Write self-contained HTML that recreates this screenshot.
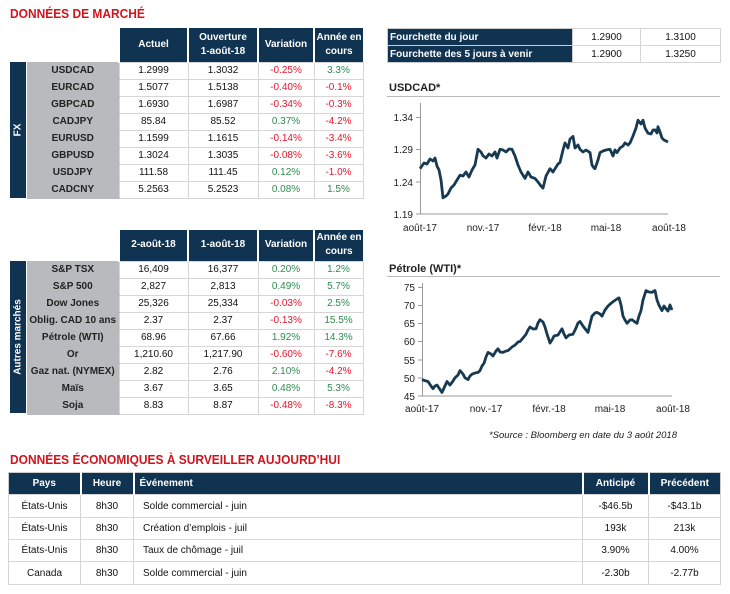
<!DOCTYPE html>
<html><head><meta charset="utf-8"><style>
*{margin:0;padding:0;box-sizing:border-box}
body{width:730px;height:594px;background:#fff;font-family:"Liberation Sans",sans-serif;font-size:10px;color:#111;position:relative;overflow:hidden}
.a{position:absolute}
.t{color:#d0141e;font-weight:bold;font-size:13px;transform:scaleX(0.92);transform-origin:left}
table{border-collapse:collapse;position:absolute;table-layout:fixed}
td,th{text-align:center;overflow:hidden;white-space:nowrap}
th{background:#0f3350;color:#fff;font-weight:bold;font-size:10px;border-left:2px solid #fff;line-height:14px}
td{border:1px solid #d6d6d6;height:17px;font-size:10px}
td.l{background:#b9babd;font-weight:bold;border:none;color:#222;border-bottom:1px solid #b9babd}
.r{color:#e8142a}.g{color:#2e8b50}
.side{position:absolute;background:#0f3350;color:#fff;font-weight:bold;font-size:10px}
.side span{position:absolute;left:50%;top:50%;transform:translate(-50%,-50%) rotate(-90deg);white-space:nowrap}
.ct{font-weight:bold;font-size:11px;color:#222}
.hr{position:absolute;height:1px;background:#bbb}
</style></head><body>
<div class="a t" style="left:10px;top:6px">DONNÉES DE MARCHÉ</div>

<table style="left:26px;top:28px;width:336px">
<colgroup><col style="width:92px"><col style="width:69px"><col style="width:70px"><col style="width:56px"><col style="width:49px"></colgroup>
<tr style="height:34px"><th style="background:#fff"></th><th>Actuel</th><th>Ouverture<br>1-août-18</th><th>Variation</th><th>Année en<br>cours</th></tr>
<tr><td class="l">USDCAD</td><td>1.2999</td><td>1.3032</td><td class="r">-0.25%</td><td class="g">3.3%</td></tr>
<tr><td class="l">EURCAD</td><td>1.5077</td><td>1.5138</td><td class="r">-0.40%</td><td class="r">-0.1%</td></tr>
<tr><td class="l">GBPCAD</td><td>1.6930</td><td>1.6987</td><td class="r">-0.34%</td><td class="r">-0.3%</td></tr>
<tr><td class="l">CADJPY</td><td>85.84</td><td>85.52</td><td class="g">0.37%</td><td class="r">-4.2%</td></tr>
<tr><td class="l">EURUSD</td><td>1.1599</td><td>1.1615</td><td class="r">-0.14%</td><td class="r">-3.4%</td></tr>
<tr><td class="l">GBPUSD</td><td>1.3024</td><td>1.3035</td><td class="r">-0.08%</td><td class="r">-3.6%</td></tr>
<tr><td class="l">USDJPY</td><td>111.58</td><td>111.45</td><td class="g">0.12%</td><td class="r">-1.0%</td></tr>
<tr><td class="l">CADCNY</td><td>5.2563</td><td>5.2523</td><td class="g">0.08%</td><td class="g">1.5%</td></tr>
</table>
<div class="side" style="left:10px;top:62px;width:16px;height:136px"><span>FX</span></div>

<table style="left:26px;top:230px;width:336px">
<colgroup><col style="width:92px"><col style="width:69px"><col style="width:70px"><col style="width:56px"><col style="width:49px"></colgroup>
<tr style="height:31px"><th style="background:#fff"></th><th>2-août-18</th><th>1-août-18</th><th>Variation</th><th>Année en<br>cours</th></tr>
<tr><td class="l">S&amp;P TSX</td><td>16,409</td><td>16,377</td><td class="g">0.20%</td><td class="g">1.2%</td></tr>
<tr><td class="l">S&amp;P 500</td><td>2,827</td><td>2,813</td><td class="g">0.49%</td><td class="g">5.7%</td></tr>
<tr><td class="l">Dow Jones</td><td>25,326</td><td>25,334</td><td class="r">-0.03%</td><td class="g">2.5%</td></tr>
<tr><td class="l">Oblig. CAD 10 ans</td><td>2.37</td><td>2.37</td><td class="r">-0.13%</td><td class="g">15.5%</td></tr>
<tr><td class="l">Pétrole (WTI)</td><td>68.96</td><td>67.66</td><td class="g">1.92%</td><td class="g">14.3%</td></tr>
<tr><td class="l">Or</td><td>1,210.60</td><td>1,217.90</td><td class="r">-0.60%</td><td class="r">-7.6%</td></tr>
<tr><td class="l">Gaz nat. (NYMEX)</td><td>2.82</td><td>2.76</td><td class="g">2.10%</td><td class="r">-4.2%</td></tr>
<tr><td class="l">Maïs</td><td>3.67</td><td>3.65</td><td class="g">0.48%</td><td class="g">5.3%</td></tr>
<tr><td class="l">Soja</td><td>8.83</td><td>8.87</td><td class="r">-0.48%</td><td class="r">-8.3%</td></tr>
</table>
<div class="side" style="left:10px;top:261px;width:16px;height:152px"><span>Autres marchés</span></div>

<table style="left:387px;top:28px;width:333px">
<colgroup><col style="width:185px"><col style="width:68px"><col style="width:80px"></colgroup>
<tr><td style="background:#0f3350;color:#fff;font-weight:bold;text-align:left;padding-left:2px;border:1px solid #ccc">Fourchette du jour</td><td>1.2900</td><td>1.3100</td></tr>
<tr><td style="background:#0f3350;color:#fff;font-weight:bold;text-align:left;padding-left:2px;border:1px solid #ccc">Fourchette des 5 jours à venir</td><td>1.2900</td><td>1.3250</td></tr>
</table>

<div class="a ct" style="left:389px;top:82px">USDCAD*</div>
<div class="hr" style="left:387px;top:96px;width:333px"></div>
<div class="a ct" style="left:389px;top:263px">Pétrole (WTI)*</div>
<div class="hr" style="left:387px;top:276px;width:333px"></div>

<svg class="a" style="left:0;top:0" width="730" height="594" font-family="Liberation Sans,sans-serif" font-size="10" fill="#222">
<g stroke="#999" stroke-width="1" fill="none">
<path d="M420.5 103V214H668"/><path d="M416 117.5h4M416 149.5h4M416 182h4M416 214h4"/>
<path d="M422.5 283V396H672"/><path d="M418 287.5h4M418 305.5h4M418 323.5h4M418 341.5h4M418 360h4M418 378h4M418 396h4"/>
</g>
<g text-anchor="end">
<text x="413" y="121">1.34</text><text x="413" y="153">1.29</text><text x="413" y="186">1.24</text><text x="413" y="218">1.19</text>
<text x="415" y="291">75</text><text x="415" y="309">70</text><text x="415" y="327">65</text><text x="415" y="345">60</text><text x="415" y="364">55</text><text x="415" y="382">50</text><text x="415" y="400">45</text>
</g>
<g text-anchor="middle">
<text x="420" y="231">août-17</text><text x="483" y="231">nov.-17</text><text x="545" y="231">févr.-18</text><text x="606" y="231">mai-18</text><text x="669" y="231">août-18</text>
<text x="422" y="412">août-17</text><text x="486" y="412">nov.-17</text><text x="549" y="412">févr.-18</text><text x="610" y="412">mai-18</text><text x="673" y="412">août-18</text>
</g>
<polyline fill="none" stroke="#173a52" stroke-width="2.8" stroke-linejoin="round" points="420,168.7 424,163 427,164 430,159 433,161 435,158 437,166 439,170 441,180 443,197.8 446,196 448,194 451,188 454,185 457,180 460,175.2 463,176 466,172 469,177 472,170 475,165 478,149.3 481,152 483,155.8 486,158 489,154 492,156 495,152 497,158 500,149.3 503,150 506,152 509,149 512,149.3 515,156 518,165 521,172 525,178.4 528,172 531,177 535,178.4 538,182 541,186 543,188.1 546,176 550,168.7 553,172 555,168.7 558,164 560,162.3 563,150 565,142.9 568,148 570,139 573,136.4 575,148 578,145 580,149.3 583,152 586,150 590,152.6 592,165 594,168 595,168.7 598,160 600,152.6 603,151 606,150 610,149.3 613,156 615,150 617,152.6 620,148 623,146 625,142.9 628,145 630,142.9 633,136 636,128 638,120.2 641,124 643,120.2 645,128 648,133.2 651,134 653,130 655,129.9 657,133 658,126.7 660,132 662,138 664,140 666,141 668,142"/>
<polyline fill="none" stroke="#173a52" stroke-width="2.8" stroke-linejoin="round" points="422,379.6 426,381 428,381.5 431,386 433,388.7 435,386 437,385.1 439,388 442,392.4 444,388 447,381.5 450,385.1 453,381 455,377.8 458,375 460,370.6 463,374 465,377.8 468,379.6 470,376 472,374.2 475,373 478,372.4 480,370.6 482,366 484,363.3 486,357 488,352.4 491,354 493,356 496,351 498,348.8 500,352 503,352.4 506,351 508,350.6 512,347 515,345.1 518,342 520,341.5 523,338 526,334.2 528,330 530,327 533,329 536,328.8 538,323 540,319.7 543,322 545,327 547,334 550,343 552,340 554,336 558,335 562,328.8 564,334 566,337.9 569,335 573,334.2 576,328 578,323 580,321.5 583,326 586,330 588,332.4 590,324 592,316.1 595,313 597,312.4 600,314 602,316.1 605,310 608,306 611,303.3 614,301 617,299 619,297.9 621,305 623,316.1 625,320 627,323.3 630,320 632,319.7 635,322 637,323.3 639,316 641,310.6 643,300 646,290.6 649,292 652,292.4 654,291 655,290.6 657,300 659,305.2 661,309 662,310.6 664,306 666,308.8 668,311 670,305 672,310"/>
<text x="677" y="438" text-anchor="end" font-style="italic" font-size="9.5">*Source : Bloomberg en date du  3 août 2018</text>
</svg>

<div class="a t" style="left:10px;top:452px">DONNÉES ÉCONOMIQUES À SURVEILLER AUJOURD’HUI</div>
<table style="left:8px;top:472px;width:712px;border:1px solid #ccc">
<colgroup><col style="width:72px"><col style="width:53px"><col style="width:449px"><col style="width:66px"><col style="width:72px"></colgroup>
<tr style="height:22px"><th style="border-left:none">Pays</th><th>Heure</th><th style="text-align:left;padding-left:5px">Événement</th><th>Anticipé</th><th>Précédent</th></tr>
<tr style="height:23px"><td>États-Unis</td><td>8h30</td><td style="text-align:left;padding-left:9px">Solde commercial - juin</td><td>-$46.5b</td><td>-$43.1b</td></tr>
<tr style="height:22px"><td>États-Unis</td><td>8h30</td><td style="text-align:left;padding-left:9px">Création d’emplois - juil</td><td>193k</td><td>213k</td></tr>
<tr style="height:22px"><td>États-Unis</td><td>8h30</td><td style="text-align:left;padding-left:9px">Taux de chômage - juil</td><td>3.90%</td><td>4.00%</td></tr>
<tr style="height:23px"><td>Canada</td><td>8h30</td><td style="text-align:left;padding-left:9px">Solde commercial - juin</td><td>-2.30b</td><td>-2.77b</td></tr>
</table>
</body></html>
